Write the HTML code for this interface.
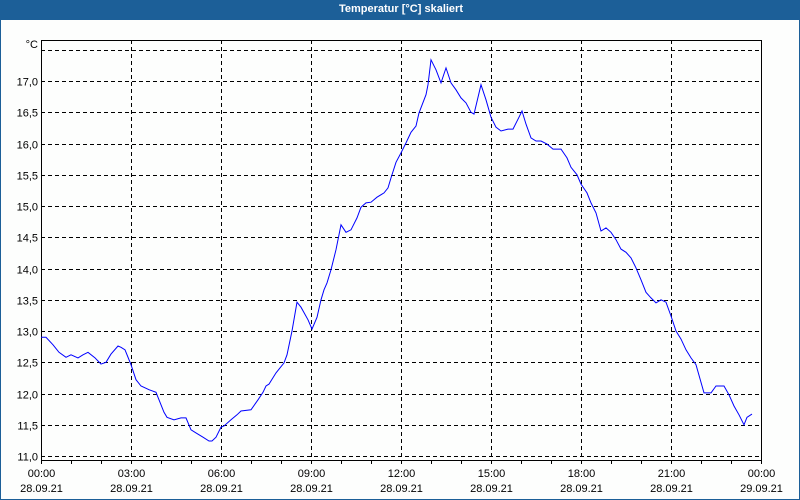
<!DOCTYPE html>
<html><head><meta charset="utf-8"><style>
html,body{margin:0;padding:0;background:#fff}
#wrap{position:relative;width:800px;height:500px;box-sizing:border-box;border:1px solid #1c5f98;border-top:none;background:#fdfefd;overflow:hidden}
#title{position:absolute;left:0;top:0;width:800px;height:20px;background:#1c5f98;color:#fff;font:bold 11px "Liberation Sans",sans-serif;text-align:center;line-height:18px}
svg{position:absolute;left:0;top:0}
text{font-family:"Liberation Sans",sans-serif;font-size:11px;fill:#000}
</style></head><body>
<div id="wrap">
<div id="title">Temperatur [°C] skaliert</div>
<svg id="chart" width="800" height="500"></svg>
</div>
<script>
const minutes=[0,10,24,36,50,60,74,84,94,108,120,130,140,154,160,168,180,190,200,216,230,246,252,266,280,290,300,310,324,336,342,350,360,366,380,392,400,420,434,444,450,456,470,486,492,502,512,520,534,542,552,560,566,572,580,590,600,610,620,632,640,650,660,672,686,694,700,710,720,730,740,750,756,770,774,780,790,800,810,820,830,840,850,860,866,880,890,900,910,920,934,944,956,962,970,980,990,1000,1012,1024,1032,1040,1052,1060,1072,1080,1092,1100,1110,1120,1130,1140,1150,1160,1170,1180,1190,1200,1210,1220,1230,1240,1250,1260,1270,1280,1290,1300,1310,1326,1340,1350,1366,1376,1386,1396,1406,1412,1422];
const temps=[12.90,12.90,12.78,12.66,12.58,12.62,12.57,12.62,12.66,12.57,12.47,12.50,12.63,12.76,12.74,12.70,12.46,12.22,12.12,12.06,12.02,11.70,11.62,11.58,11.61,11.61,11.42,11.37,11.30,11.24,11.24,11.30,11.46,11.48,11.58,11.66,11.72,11.74,11.90,12.02,12.12,12.15,12.33,12.49,12.62,13.00,13.46,13.38,13.18,13.03,13.22,13.50,13.66,13.77,13.98,14.30,14.70,14.58,14.62,14.81,14.98,15.05,15.06,15.14,15.21,15.29,15.45,15.70,15.85,16.01,16.18,16.28,16.49,16.78,16.94,17.34,17.18,16.97,17.21,16.97,16.86,16.73,16.65,16.50,16.47,16.94,16.70,16.42,16.26,16.20,16.23,16.23,16.42,16.52,16.31,16.09,16.04,16.04,15.99,15.91,15.91,15.91,15.77,15.62,15.50,15.35,15.21,15.05,14.89,14.60,14.65,14.58,14.46,14.31,14.26,14.17,14.01,13.82,13.62,13.53,13.45,13.50,13.46,13.24,13.00,12.87,12.70,12.57,12.46,12.01,12.01,12.12,12.12,11.98,11.80,11.66,11.50,11.62,11.67];
const yTicks=[11.0,11.5,12.0,12.5,13.0,13.5,14.0,14.5,15.0,15.5,16.0,16.5,17.0,17.5];
const yTickLabels=["11,0","11,5","12,0","12,5","13,0","13,5","14,0","14,5","15,0","15,5","16,0","16,5","17,0",""];
const xTickHours=[0,3,6,9,12,15,18,21,24];
const xTimeLabels=["00:00","03:00","06:00","09:00","12:00","15:00","18:00","21:00","00:00"];
const xDateLabels=["28.09.21","28.09.21","28.09.21","28.09.21","28.09.21","28.09.21","28.09.21","28.09.21","29.09.21"];

const L=40,R=760,T=40,B=460;
const X=m=>L+(m/60)*30;
const Y=v=>81+(17-v)*62.5;
const svg=document.getElementById('chart');
const NS='http://www.w3.org/2000/svg';
function mk(tag,attrs){const e=document.createElementNS(NS,tag);for(const k in attrs)e.setAttribute(k,attrs[k]);svg.appendChild(e);return e;}

yTicks.forEach((v,i)=>{
  const y=Math.round(Y(v))+0.5;
  const g=mk('line',{x1:L,x2:R,y1:y,y2:y,stroke:'#000','stroke-dasharray':'4,3'});
  
  
  if(yTickLabels[i]){
    const t=mk('text',{x:L-3,y:y+4,'text-anchor':'end'});
    t.textContent=yTickLabels[i];
    
    
  }
});
xTickHours.forEach((h,i)=>{
  const x=Math.round(X(h*60))+0.5;
  if(h>0&&h<24){
    const g=mk('line',{x1:x,x2:x,y1:T,y2:B,stroke:'#000','stroke-dasharray':'4,3'});
    
    
  }
  const t1=mk('text',{x:x,y:477,'text-anchor':'middle'});
  t1.textContent=xTimeLabels[i];
  
  
  const t2=mk('text',{x:x,y:492,'text-anchor':'middle'});
  t2.textContent=xDateLabels[i];
  
  
});
for(let h=0;h<=24;h++){
  const x=Math.round(X(h*60))+0.5;
  const tk=mk('line',{x1:x,x2:x,y1:B,y2:B+4,stroke:'#000'});
  
  
}
const frame=mk('polyline',{points:`${L+0.5},${T} ${L+0.5},${B+0.5} ${R+0.5},${B+0.5} ${R+0.5},${T}`,fill:'none',stroke:'#000'});


const topLine=mk('line',{x1:L,x2:R+1,y1:T+0.5,y2:T+0.5,stroke:'#000'});


const unit=mk('text',{x:L-3,y:T+8,'text-anchor':'end'});
unit.textContent='°C';



const pts=minutes.map((m,i)=>X(m).toFixed(1)+','+Y(temps[i]).toFixed(1)).join(' ');
const line=mk('polyline',{points:pts,fill:'none',stroke:'#0000ff','stroke-width':1});


</script>
</body></html>
